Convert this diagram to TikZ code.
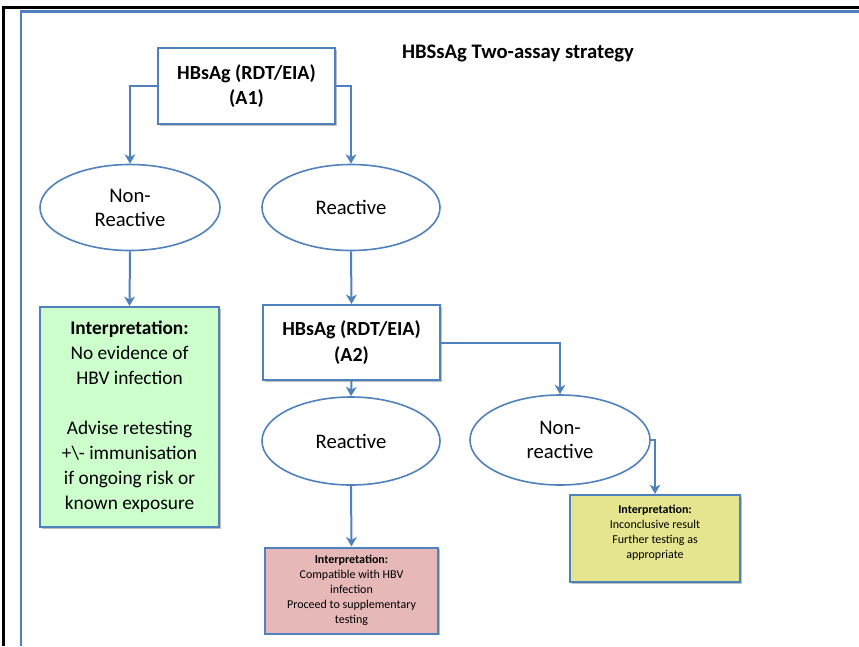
\documentclass[tikz,border=0pt]{standalone}
\usepackage{fontspec}
\setmainfont{Carlito}
\usetikzlibrary{arrows.meta,shapes.geometric,shadows}
\definecolor{obl}{HTML}{4F81BD}
\definecolor{gfill}{HTML}{CCFFCC}
\definecolor{rfill}{HTML}{E6B9B8}
\definecolor{yfill}{HTML}{E5E58F}
\tikzset{
  conn/.style={draw=obl, line width=1.5pt, -{Stealth[length=7pt,width=8pt,inset=2pt]}},
  boxsh/.style={drop shadow={shadow xshift=1.2pt, shadow yshift=-1.2pt, fill=black, opacity=0.25}},
  testbox/.style={rectangle, draw=obl, line width=1.5pt, fill=white, boxsh, inner sep=0pt,
    align=center, font=\fontsize{15}{19}\selectfont\bfseries, minimum width=132.75pt},
  oval/.style={ellipse, draw=obl, line width=1.2pt, fill=white, inner sep=0pt,
    align=center, font=\fontsize{15.5}{18}\selectfont},
  resbox/.style={rectangle, draw=obl, line width=1.5pt, boxsh, inner sep=0pt, align=center},
}
\begin{document}
\begin{tikzpicture}[x=0.75pt,y=-0.75pt]
\useasboundingbox (0,0) rectangle (859,646);
% frame lines
\draw[black, line width=1.6pt] (3.5,646) -- (3.5,7.5) -- (859,7.5);
\draw[obl, line width=1.6pt] (21,646) -- (21,11.5) -- (859,11.5);
% title
\node[font=\fontsize{15.5}{18}\selectfont\bfseries] (title) at (518,53) {HBSsAg Two-assay strategy};
% nodes
\node[testbox, minimum height=57pt] (A1) at (246.5,86) {HBsAg (RDT/EIA)\\(A1)};
\node[oval, minimum width=135pt, minimum height=64.5pt] (nr1) at (130,207.5) {Non-\\Reactive};
\node[oval, minimum width=133.5pt, minimum height=64.5pt] (r1) at (351,207.5) {Reactive};
\node[resbox, fill=gfill, minimum width=134.25pt, minimum height=165pt,
  font=\fontsize{14.5}{18.75}\selectfont] (gb) at (129.5,417)
  {\textbf{Interpretation:}\\No evidence of\\HBV infection\\[18.75pt]Advise retesting\\+\textbackslash- immunisation\\if ongoing risk or\\known exposure};
\node[testbox, minimum height=56.25pt] (A2) at (351.5,342.5) {HBsAg (RDT/EIA)\\(A2)};
\node[oval, minimum width=133.5pt, minimum height=66pt] (r2) at (351,441) {Reactive};
\node[oval, minimum width=135pt, minimum height=67.5pt] (nr2) at (560,440) {Non-\\reactive};
\node[resbox, fill=yfill, minimum width=127.5pt, minimum height=65.25pt] (yb) at (655,538.5) {};
\node[anchor=north, align=center, inner sep=0pt, font=\fontsize{9}{11.25}\selectfont] (ybt) at (655,504.5)
  {\textbf{Interpretation:}\\Inconclusive result\\Further testing as\\appropriate};
\node[resbox, fill=rfill, minimum width=129.75pt, minimum height=64.5pt,
  font=\fontsize{9}{11.25}\selectfont] (rb) at (351.5,590.5)
  {\textbf{Interpretation:}\\Compatible with HBV\\infection\\Proceed to supplementary\\testing};
% connectors
\draw[conn] (A1.west) -| (nr1.north);
\draw[conn] (A1.east) -| (r1.north);
\draw[conn] (nr1.south) -- (gb.north);
\draw[conn] (r1.south) -- (A2.north);
\draw[conn] (A2.south) -- (r2.north);
\draw[conn] (A2.east) -| (nr2.north);
\draw[conn] (nr2.east) -| (yb.north);
\draw[conn] (r2.south) -- (rb.north);
\end{tikzpicture}
\end{document}
